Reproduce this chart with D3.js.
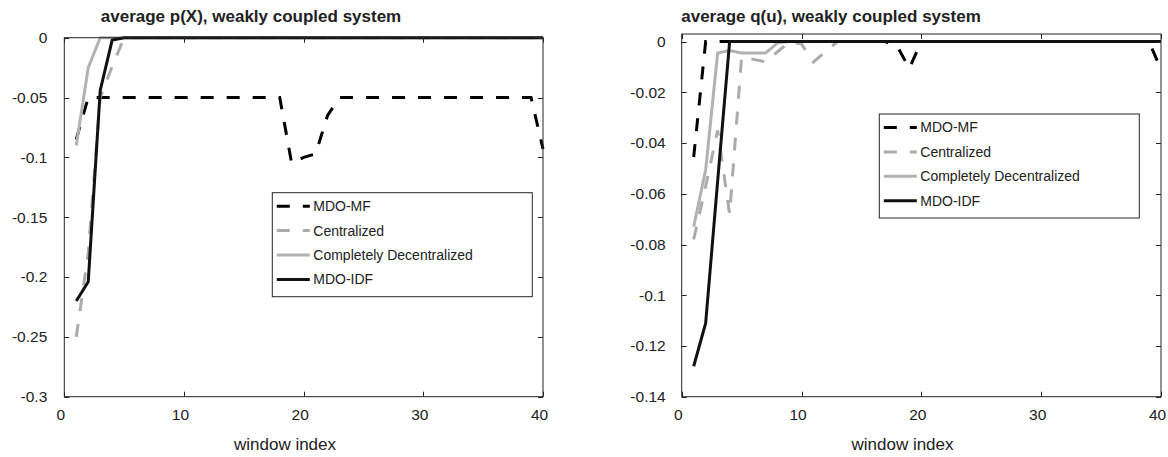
<!DOCTYPE html>
<html>
<head>
<meta charset="utf-8">
<script src="https://cdn.jsdelivr.net/npm/d3@7"></script>
<style>
  html, body { margin: 0; padding: 0; background: #fff; }
  svg { display: block; }
  text { font-family: "Liberation Sans", Arial, Helvetica, sans-serif; fill: #222; }
</style>
</head>
<body>
<svg id="fig" width="1168" height="457"></svg>
<script>
// window index (x values shared by every series)
const windowIndex = [1,2,3,4,5,6,7,8,9,10,11,12,13,14,15,16,17,18,19,20,
                     21,22,23,24,25,26,27,28,29,30,31,32,33,34,35,36,37,38,39,40];

const seriesNames = ["MDO-MF", "Centralized", "Completely Decentralized", "MDO-IDF"];

// average p(X)
const pMDOMF = [-0.085,-0.05,-0.05,-0.05,-0.05,-0.05,-0.05,-0.05,-0.05,-0.05,
                -0.05,-0.05,-0.05,-0.05,-0.05,-0.05,-0.05,-0.05,-0.105,-0.1,
                -0.097,-0.065,-0.05,-0.05,-0.05,-0.05,-0.05,-0.05,-0.05,-0.05,
                -0.05,-0.05,-0.05,-0.05,-0.05,-0.05,-0.05,-0.05,-0.05,-0.093];
const pCentralized = [-0.25,-0.18,-0.05,-0.024,0,0,0,0,0,0,
                      0,0,0,0,0,0,0,0,0,0,
                      0,0,0,0,0,0,0,0,0,0,
                      0,0,0,0,0,0,0,0,0,0];
const pDecentralized = [-0.09,-0.025,0,0,0,0,0,0,0,0,
                        0,0,0,0,0,0,0,0,0,0,
                        0,0,0,0,0,0,0,0,0,0,
                        0,0,0,0,0,0,0,0,0,0];
const pMDOIDF = [-0.22,-0.204,-0.044,-0.002,0,0,0,0,0,0,
                 0,0,0,0,0,0,0,0,0,0,
                 0,0,0,0,0,0,0,0,0,0,
                 0,0,0,0,0,0,0,0,0,0];

// average q(u)
const qMDOMF = [-0.0455,0,0,0,0,0,0,0,0,0,
                0,0,0,0,0,0,0,-0.002,-0.0105,0,
                0,0,0,0,0,0,0,0,0,0,
                0,0,0,0,0,0,0,0,0,-0.011];
const qCentralized = [-0.078,-0.057,-0.035,-0.068,-0.006,-0.007,-0.008,-0.004,0,-0.001,
                      -0.008,-0.004,0,0,0,0,0,0,0,0,
                      0,0,0,0,0,0,0,0,0,0,
                      0,0,0,0,0,0,0,0,0,0];
const qDecentralized = [-0.073,-0.0505,-0.0045,-0.0035,-0.0045,-0.0045,-0.0045,-0.0005,0,0,
                        0,0,0,0,0,0,0,0,0,0,
                        0,0,0,0,0,0,0,0,0,0,
                        0,0,0,0,0,0,0,0,0,0];
const qMDOIDF = [-0.128,-0.111,-0.055,0,0,0,0,0,0,0,
                 0,0,0,0,0,0,0,0,0,0,
                 0,0,0,0,0,0,0,0,0,0,
                 0,0,0,0,0,0,0,0,0,0];

// tick values and labels
const xTicks = [0, 10, 20, 30, 40];
const pYTicks = [0, -0.05, -0.1, -0.15, -0.2, -0.25, -0.3];
const pYLabels = ["0", "-0.05", "-0.1", "-0.15", "-0.2", "-0.25", "-0.3"];
const qYTicks = [0, -0.02, -0.04, -0.06, -0.08, -0.1, -0.12, -0.14];
const qYLabels = ["0", "-0.02", "-0.04", "-0.06", "-0.08", "-0.1", "-0.12", "-0.14"];

const titles = ["average p(X), weakly coupled system", "average q(u), weakly coupled system"];
const xLabel = "window index";

// line styles per series
const styles = [
  { color: "#000000", dash: "13,13", width: 3 },
  { color: "#ababab", dash: "13,13", width: 3 },
  { color: "#b2b2b2", dash: null,    width: 3 },
  { color: "#111111", dash: null,    width: 3 }
];

const svg = d3.select("#fig");

function drawPanel(cfg) {
  const x = d3.scaleLinear().domain([0, 40]).range([cfg.left, cfg.right]);
  const y = d3.scaleLinear().domain(cfg.yDomain).range([cfg.bottom, cfg.top]);
  const g = svg.append("g");

  // series
  const line = d3.line().x((d, i) => x(windowIndex[i])).y(d => y(d));
  cfg.series.forEach((vals, k) => {
    const s = styles[k];
    g.append("path")
      .datum(vals)
      .attr("d", line)
      .attr("fill", "none")
      .attr("stroke", s.color)
      .attr("stroke-width", s.width)
      .attr("stroke-linejoin", "miter")
      .attr("stroke-dasharray", s.dash);
  });

  // box
  g.append("rect")
    .attr("x", cfg.left).attr("y", cfg.top)
    .attr("width", cfg.right - cfg.left).attr("height", cfg.bottom - cfg.top)
    .attr("fill", "none").attr("stroke", "#262626").attr("stroke-width", 1);

  const tl = 5;
  // x ticks (inward, bottom and top)
  xTicks.forEach(t => {
    const xx = Math.round(x(t)) + 0.5;
    g.append("line").attr("x1", xx).attr("x2", xx).attr("y1", cfg.bottom).attr("y2", cfg.bottom - tl)
      .attr("stroke", "#262626");
    g.append("line").attr("x1", xx).attr("x2", xx).attr("y1", cfg.top).attr("y2", cfg.top + tl)
      .attr("stroke", "#262626");
    g.append("text").attr("x", x(t) - 3.5).attr("y", cfg.bottom + 23)
      .attr("text-anchor", "middle").attr("font-size", 15.5).text(t);
  });
  // y ticks (inward, left and right)
  cfg.yTicks.forEach((t, i) => {
    const yy = Math.round(y(t)) + 0.5;
    g.append("line").attr("x1", cfg.left).attr("x2", cfg.left + tl).attr("y1", yy).attr("y2", yy)
      .attr("stroke", "#262626");
    g.append("line").attr("x1", cfg.right).attr("x2", cfg.right - tl).attr("y1", yy).attr("y2", yy)
      .attr("stroke", "#262626");
    g.append("text").attr("x", cfg.left - cfg.labelGap).attr("y", y(t))
      .attr("dy", "0.35em").attr("text-anchor", "end").attr("font-size", 15.5).text(cfg.yLabels[i]);
  });

  // labels
  g.append("text").attr("x", cfg.xLabelX).attr("y", 450)
    .attr("text-anchor", "middle").attr("font-size", 17).text(xLabel);
  g.append("text").attr("x", cfg.titleX).attr("y", 22)
    .attr("text-anchor", "middle").attr("font-size", 17).attr("font-weight", "bold").text(cfg.title);

  // legend
  const L = cfg.legend;
  const lg = g.append("g");
  lg.append("rect").attr("x", L.x).attr("y", L.y).attr("width", 260).attr("height", 104)
    .attr("fill", "#fff").attr("stroke", "#262626").attr("stroke-width", 1);
  seriesNames.forEach((name, k) => {
    const s = styles[k];
    const cy = L.y + 13.5 + k * 24.4;
    lg.append("line").attr("x1", L.x + 4.5).attr("x2", L.x + 37.5).attr("y1", cy).attr("y2", cy)
      .attr("stroke", s.color).attr("stroke-width", s.width).attr("stroke-dasharray", s.dash);
    lg.append("text").attr("x", L.x + 41).attr("y", cy).attr("dy", "0.35em")
      .attr("font-size", 14).text(name);
  });
}

drawPanel({
  left: 64.3, right: 543, top: 37.7, bottom: 396.7,
  yDomain: [-0.3, 0], yTicks: pYTicks, yLabels: pYLabels, labelGap: 17,
  series: [pMDOMF, pCentralized, pDecentralized, pMDOIDF],
  title: titles[0], titleX: 251, xLabelX: 285,
  legend: { x: 272.3, y: 192.7 }
});

drawPanel({
  left: 681.7, right: 1161, top: 34, bottom: 396.7,
  yDomain: [-0.14, 0.003], yTicks: qYTicks, yLabels: qYLabels, labelGap: 16,
  series: [qMDOMF, qCentralized, qDecentralized, qMDOIDF],
  title: titles[1], titleX: 831, xLabelX: 902.5,
  legend: { x: 879.3, y: 114 }
});
</script>
</body>
</html>
